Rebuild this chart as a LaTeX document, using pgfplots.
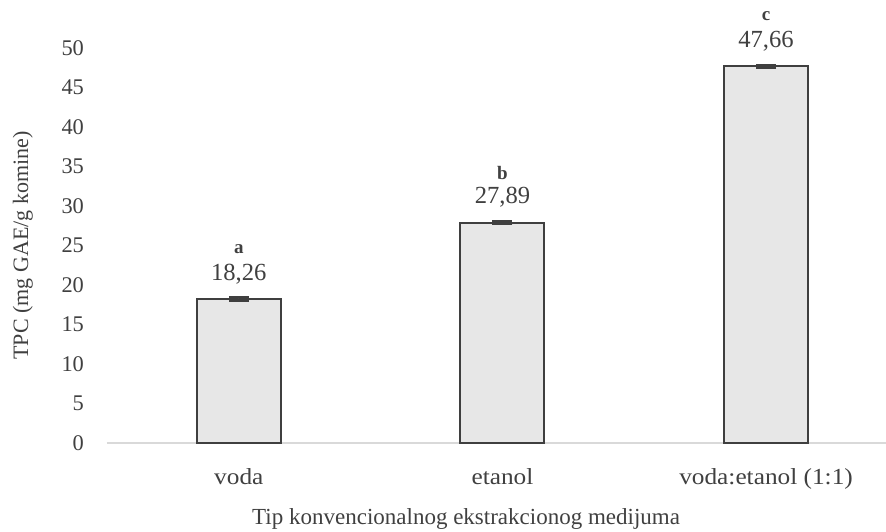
\documentclass[border=0pt]{standalone}
\usepackage{pgfplots}
\pgfplotsset{compat=1.18}
\usepackage{pgfplotstable}
\usepackage{fontspec}
\setmainfont{Liberation Serif}
\newfontfamily\widefont[FakeStretch=1.1]{Liberation Serif}
\definecolor{barfill}{HTML}{E7E7E7}
\definecolor{barline}{HTML}{3F3F3F}
\definecolor{axgray}{HTML}{D9D9D9}
\definecolor{txt}{HTML}{404040}

\pgfplotstableread{
x y err num let
0 18.26 0.20 18,26 a
1 27.89 0.10 27,89 b
2 47.66 0.12 47,66 c
}\datatable

\begin{document}
\begin{tikzpicture}
\begin{axis}[
  scale only axis,
  width=389.5pt, height=197.5pt,
  xmin=-0.5, xmax=2.455, ymin=0, ymax=50,
  ytick={0,5,...,50},
  xtick=data,
  xticklabels={voda, etanol, voda:etanol (1:1)},
  major tick length=0pt,
  axis x line*=bottom, axis y line*=left,
  y axis line style={draw=none},
  x axis line style={draw=axgray, line width=1pt, -},
  /pgf/number format/assume math mode=true,
  yticklabel style={font=\fontsize{11.2}{13}\selectfont, text=txt, xshift=-8pt},
  xticklabel style={font=\widefont\fontsize{11.5}{13}\selectfont, text=txt, yshift=-9pt},
  xlabel={Tip konvencionalnog ekstrakcionog medijuma},
  ylabel={TPC (mg GAE/g komine)},
  xlabel style={font=\fontsize{11.5}{13}\selectfont, text=txt, at={(axis description cs:0.461,-0.192)}, anchor=center},
  ylabel style={font=\fontsize{11}{13}\selectfont, text=txt, at={(axis description cs:-0.108,0.5)}, anchor=center},
  clip=false,
]
\addplot[ybar, bar width=42pt, bar shift=0pt, fill=barfill, draw=barline, line width=1pt,
  error bars/.cd, y dir=both, y explicit,
  error bar style={draw=barline, line width=1.5pt},
  error mark options={draw=barline, line width=1.5pt, mark size=5pt, rotate=90},
]
  table[x=x, y=y, y error=err] {\datatable};
\addplot[only marks, mark=none, draw=none,
  point meta=explicit symbolic,
  nodes near coords,
  every node near coord/.style={anchor=center, yshift=12.5pt, font=\fontsize{12.3}{14}\selectfont, text=txt},
]
  table[x=x, y=y, meta=num] {\datatable};
\addplot[only marks, mark=none, draw=none,
  point meta=explicit symbolic,
  nodes near coords,
  every node near coord/.style={anchor=center, yshift=25pt, font=\fontsize{9.5}{11}\selectfont\bfseries, text=txt},
]
  table[x=x, y=y, meta=let] {\datatable};
\end{axis}
\pgfresetboundingbox
\path[use as bounding box] ([shift={(-53.5pt,-44.5pt)}]current axis.south west) rectangle ([shift={(0pt,24pt)}]current axis.north east);
\end{tikzpicture}
\end{document}
